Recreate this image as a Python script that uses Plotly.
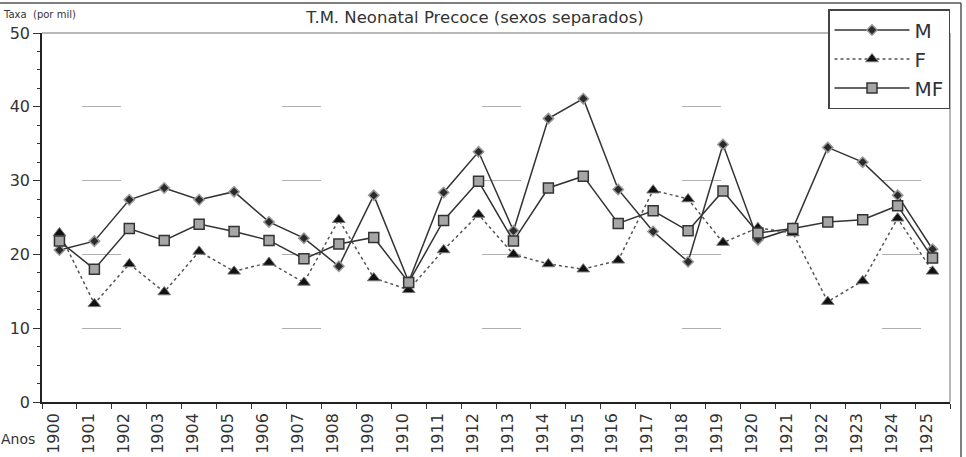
import plotly.graph_objects as go

years = [str(y) for y in range(1900, 1926)]
m_vals = [20.6, 21.8, 27.4, 29.0, 27.4, 28.5, 24.4, 22.2, 18.4, 28.0, 16.3, 28.4, 33.9,
          23.2, 38.4, 41.1, 28.8, 23.1, 19.0, 34.9, 22.0, 23.5, 34.5, 32.5, 28.0, 20.7]
f_vals = [22.9, 13.3, 18.7, 14.9, 20.4, 17.7, 18.9, 16.2, 24.7, 16.8, 15.2, 20.6, 25.4,
          20.0, 18.7, 18.0, 19.2, 28.7, 27.5, 21.6, 23.6, 22.9, 13.6, 16.4, 24.9, 17.7]
mf_vals = [21.8, 18.0, 23.5, 21.9, 24.1, 23.1, 21.9, 19.4, 21.4, 22.3, 16.2, 24.6, 29.9,
           21.8, 29.0, 30.6, 24.2, 25.9, 23.2, 28.6, 22.9, 23.5, 24.4, 24.7, 26.6, 19.5]
y_ticks = [0, 10, 20, 30, 40, 50]

FONT = "DejaVu Sans"
L, R, T, B = 42, 16, 33, 55
W, H = 966, 457
pw, ph = W - L - R, H - T - B


def px_x(p):
    return (p - L) / pw


def px_y(p):
    return (H - B - p) / ph


fig = go.Figure()
fig.add_trace(go.Scatter(
    x=years, y=m_vals, name="M", mode="lines+markers",
    line=dict(color="#333333", width=1.5),
    marker=dict(symbol="diamond", size=8, color="#2a2a2a", line=dict(color="#9a9a9a", width=1.5)),
))
fig.add_trace(go.Scatter(
    x=years, y=f_vals, name="F", mode="lines+markers",
    line=dict(color="#555555", width=1.5, dash="dot"),
    marker=dict(symbol="triangle-up", size=11, color="#111111", line=dict(color="#777777", width=1)),
))
fig.add_trace(go.Scatter(
    x=years, y=mf_vals, name="MF", mode="lines+markers",
    line=dict(color="#333333", width=1.5),
    marker=dict(symbol="square", size=10, color="#a6a6a6", line=dict(color="#333333", width=1.5)),
))

fig.update_layout(
    width=W, height=H,
    margin=dict(l=L, r=R, t=T, b=B, autoexpand=False),
    paper_bgcolor="white", plot_bgcolor="white",
    font=dict(family=FONT, color="#333333"),
    title=dict(text="T.M. Neonatal Precoce (sexos separados)", x=475 / W, xanchor="center",
               y=1 - 17 / H, yanchor="middle", automargin=False,
               font=dict(size=16.5, family=FONT, color="#333333")),
    legend=dict(x=px_x(828), y=px_y(9), xanchor="left", yanchor="top",
                bordercolor="#444444", borderwidth=1.5, bgcolor="white",
                font=dict(size=20, family=FONT, color="#333333"),
                itemwidth=75, tracegroupgap=0),
    showlegend=True,
)

fig.update_xaxes(
    type="category", tickson="boundaries", ticks="outside", ticklen=5, tickwidth=1,
    tickcolor="#333333", showline=True, linecolor="#222222", linewidth=1.5,
    tickangle=-90, tickfont=dict(size=16, family=FONT, color="#333333"),
    ticklabelshift=-6, ticklabelstandoff=3, automargin=False,
    showgrid=False, zeroline=False, range=[-0.5, 25.5],
)
fig.update_yaxes(
    range=[0, 50], tickvals=y_ticks, ticks="outside", ticklen=7, tickwidth=1,
    tickcolor="#333333", showline=True, linecolor="#222222", linewidth=1.5,
    tickfont=dict(size=16, family=FONT, color="#333333"), automargin=False,
    showgrid=True, gridcolor="#b0b0b0", gridwidth=1, griddash="0px,40px,39px,121px",
    zeroline=False,
    minor=dict(dtick=2.5, ticks="outside", ticklen=3, tickcolor="#333333", showgrid=False),
)

# plot border (top and right) in light gray
fig.add_shape(type="line", xref="paper", yref="paper", x0=0, x1=1, y0=1, y1=1,
              line=dict(color="#a0a0a0", width=1.5))
fig.add_shape(type="line", xref="paper", yref="paper", x0=1, x1=1, y0=0, y1=1,
              line=dict(color="#a0a0a0", width=1.5))
# outer frame
fig.add_shape(type="line", xref="paper", yref="paper", x0=px_x(-5), x1=px_x(961),
              y0=px_y(3), y1=px_y(3), line=dict(color="#555555", width=1.5))
fig.add_shape(type="line", xref="paper", yref="paper", x0=px_x(961), x1=px_x(961),
              y0=px_y(3), y1=px_y(470), line=dict(color="#555555", width=1.5))

fig.add_annotation(text="Taxa  (por mil)", xref="paper", yref="paper", x=px_x(1), y=px_y(14),
                   xanchor="left", yanchor="middle", showarrow=False,
                   font=dict(size=10, family=FONT, color="#333333"))
fig.add_annotation(text="Anos", xref="paper", yref="paper", x=px_x(-1), y=px_y(439),
                   xanchor="left", yanchor="middle", showarrow=False,
                   font=dict(size=14, family=FONT, color="#333333"))

fig.write_html("out.html")
